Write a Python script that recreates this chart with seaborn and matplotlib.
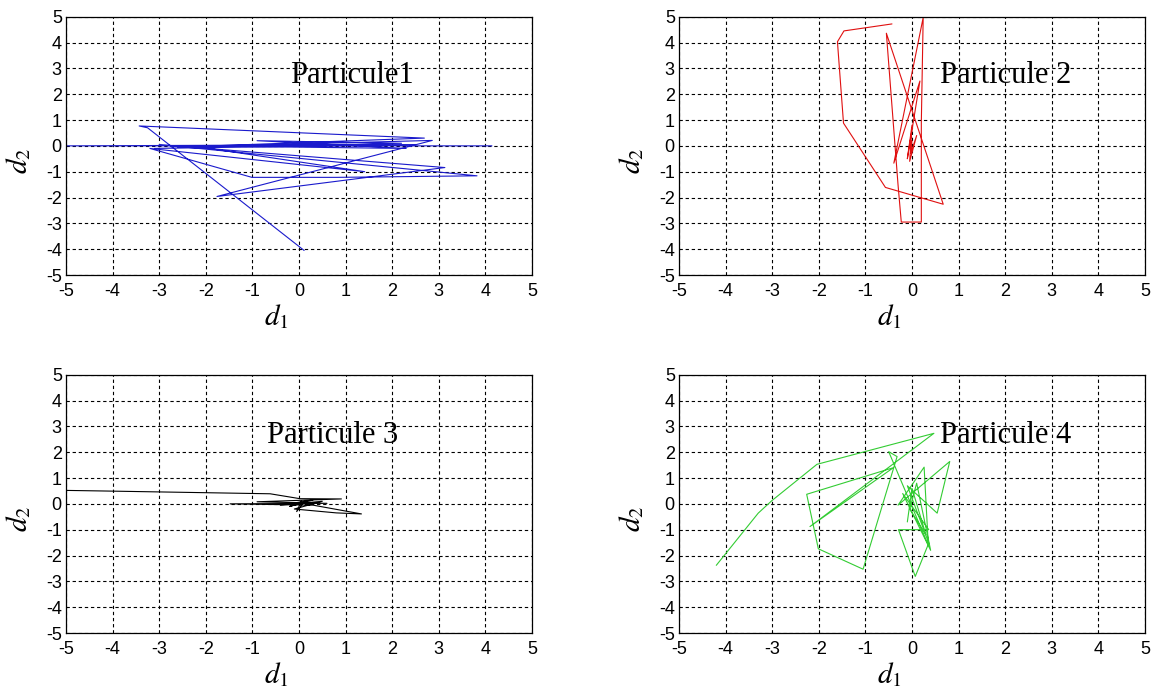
import pandas as pd
import matplotlib
matplotlib.use("Agg")
import matplotlib.pyplot as plt
import seaborn as sns

# trajectories (d1, d2)
p1_d1 = [0.11, -3.25, -3.43, 2.69, -2.6, 2.86, -1.76, 3.13, -3.0, 3.82, 0.81, -1.01,
         -3.2, 1.41, -2.3, 2.3, -0.9, 2.2, -3.1, 2.5, -4.98, 4.14]
p1_d2 = [-4.05, 0.70, 0.77, 0.30, -0.05, 0.21, -1.96, -0.84, 0.05, -1.16, -1.22, -1.22,
         -0.10, -1.00, 0.00, -0.10, 0.20, 0.10, -0.10, 0.05, 0.00, 0.00]

p2_d1 = [-0.43, -1.46, -1.60, -1.47, -0.57, 0.67, -0.55, -0.30, -0.23, 0.20, 0.20, 0.24,
         -0.39, 0.17, -0.10, 0.00, -0.05, 0.10, -0.03, 0.00]
p2_d2 = [4.72, 4.45, 4.03, 0.88, -1.61, -2.26, 4.36, -1.50, -2.95, -2.95, 0.90, 4.97,
         -0.67, 2.51, -0.50, 0.80, -0.60, 0.40, -0.30, 0.20]

p3_d1 = [-4.98, -4.26, -0.62, 0.02, 0.91, -0.90, 0.60, -1.48, 0.30, 1.34, 0.80, -0.10,
         0.50, -0.40, 0.30, -0.20, 0.10, -0.05, 0.05]
p3_d2 = [0.52, 0.50, 0.39, 0.20, 0.19, 0.08, 0.02, 0.00, -0.05, -0.39, -0.35, -0.20,
         0.10, -0.05, 0.15, -0.10, 0.05, -0.30, 0.10]

p4_d1 = [-4.20, -3.30, -3.01, -2.04, 0.47, -2.19, -0.40, -2.26, -2.01, -1.05, -0.32, -0.50,
         0.35, 0.26, -0.30, 0.81, 0.54, -0.10, 0.36, 0.07, -0.29, 0.36, -0.20, 0.40,
         0.10, -0.05, 0.30, 0.00, -0.10]
p4_d2 = [-2.38, -0.36, 0.12, 1.53, 2.73, -0.88, 1.40, 0.37, -1.74, -2.53, 1.83, 2.02,
         -1.60, 1.42, -0.05, 1.64, -0.36, 0.70, -1.52, -2.81, -1.00, -1.00, 0.40, -1.80,
         0.80, -0.20, -1.20, 0.60, -0.70]

labels = ["Particule1", "Particule 2", "Particule 3", "Particule 4"]
colors = ["#1a1acc", "#e01010", "#000000", "#33cc33"]
ticks = list(range(-5, 6))

sns.set_style("white")
plt.rcParams["font.family"] = ["Liberation Sans", "DejaVu Sans"]
plt.rcParams["mathtext.fontset"] = "stix"
plt.rcParams["axes.unicode_minus"] = False
plt.rcParams["text.color"] = "black"
plt.rcParams["axes.labelcolor"] = "black"
plt.rcParams["xtick.color"] = "black"
plt.rcParams["ytick.color"] = "black"

fig = plt.figure(figsize=(11.54, 6.87), dpi=100)
W, H = 1154, 687
boxes = [(66, 16.7), (679, 16.7), (66, 374.7), (679, 374.7)]
data = [(p1_d1, p1_d2), (p2_d1, p2_d2), (p3_d1, p3_d2), (p4_d1, p4_d2)]
text_pos = [(1.13, 2.74), (2.0, 2.74), (0.73, 2.66), (2.0, 2.66)]

for i, ((left, top), (xs, ys)) in enumerate(zip(boxes, data)):
    ax = fig.add_axes([left / W, 1 - (top + 258.3) / H, 466 / W, 258.3 / H])
    df = pd.DataFrame({"d1": xs, "d2": ys, "step": range(len(xs))})
    sns.lineplot(data=df, x="d1", y="d2", sort=False, estimator=None,
                 color=colors[i], lw=0.8, ax=ax)
    ax.set_xlim(-5, 5)
    ax.set_ylim(-5, 5)
    ax.set_xticks(ticks)
    ax.set_yticks(ticks)
    ax.tick_params(direction="in", length=4, labelsize=13)
    ax.tick_params(axis="x", pad=6)
    ax.tick_params(axis="y", pad=3)
    ax.grid(True, color="black", linestyle=(0, (3, 2.5)), linewidth=0.8)
    ax.set_axisbelow(True)
    for s in ax.spines.values():
        s.set_color("black")
        s.set_linewidth(0.9)
    ax.set_xlabel(r"$d_1$", fontsize=21)
    ax.set_ylabel(r"$d_2$", fontsize=21)
    ax.xaxis.set_label_coords(0.452, -0.105)
    ax.yaxis.set_label_coords(-0.071, 0.44)
    tx, ty = text_pos[i]
    ax.text(tx, ty, labels[i], ha="center", va="center", fontsize=22,
            color="black", family=["Liberation Serif", "DejaVu Serif"])

fig.savefig("out.png", dpi=100)
